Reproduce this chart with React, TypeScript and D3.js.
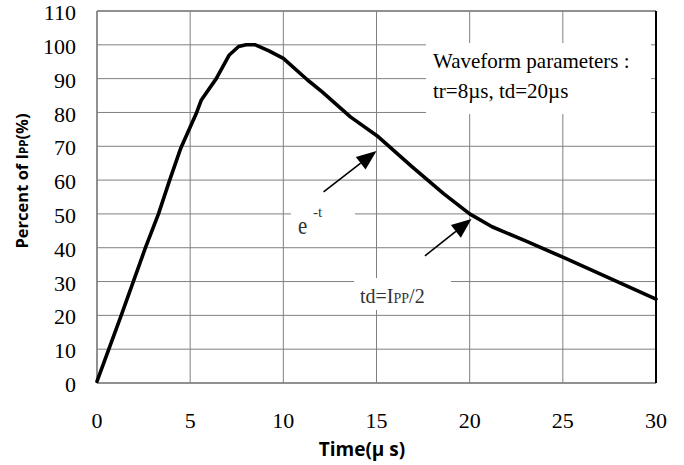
import React from "react";
import * as d3 from "d3";

const timeUs = [0, 1.3, 2.6, 3.3, 3.9, 4.5, 5.35, 5.6, 6.4, 7.1, 7.6, 8.0, 8.5, 9.2, 10.0, 11.3, 12.1, 13.6, 15.1, 16.9, 18.6, 20, 21.2, 23, 25, 27.5, 30];
const percent = [0.5, 20, 40, 50, 60, 69.5, 80, 83.7, 90, 97, 99.5, 100, 100, 98.3, 96, 89.6, 86, 78.7, 72.8, 64, 56, 50, 46.2, 42, 37.2, 31, 24.8];
const xTicks = [0, 5, 10, 15, 20, 25, 30];
const yTicks = [0, 10, 20, 30, 40, 50, 60, 70, 80, 90, 100, 110];
// arrows: [tailT, tailV, tipT, tipV]
const arrows = [
  [12.16, 56.5, 15.0, 68.6],
  [17.6, 37.6, 20.1, 48.5],
];

const W = 684, H = 465;
const L = 97, R = 656, T = 11, B = 383;

export default function App() {
  const x = d3.scaleLinear().domain([0, 30]).range([L, R]);
  const y = d3.scaleLinear().domain([0, 110]).range([B, T]);
  const pts: [number, number][] = timeUs.map((t, i) => [t, percent[i]]);
  const line = d3.line<[number, number]>().x(d => x(d[0])).y(d => y(d[1]));
  const serif = "'Liberation Serif', 'DejaVu Serif', serif";
  const sans = "'Open Sans', 'Noto Sans', sans-serif";
  const grid = "#808080";

  const arrowEls = arrows.map((a, i) => {
    const x1 = x(a[0]), y1 = y(a[1]), x2 = x(a[2]), y2 = y(a[3]);
    const ang = Math.atan2(y2 - y1, x2 - x1);
    const hl = 20, hw = 8;
    const bx = x2 - hl * Math.cos(ang), by = y2 - hl * Math.sin(ang);
    const px = -Math.sin(ang) * hw, py = Math.cos(ang) * hw;
    return (
      <g key={i}>
        <line x1={x1} y1={y1} x2={bx} y2={by} stroke="#000" strokeWidth={1.6} />
        <polygon points={`${x2},${y2} ${bx + px},${by + py} ${bx - px},${by - py}`} fill="#000" />
      </g>
    );
  });

  return (
    <div style={{ position: "fixed", left: 0, top: 0 }}>
      <svg width={W} height={H} style={{ display: "block", background: "#fff" }}>
        {/* gridlines */}
        {yTicks.map(v => (
          <line key={"h" + v} x1={L} x2={R} y1={y(v)} y2={y(v)} stroke={grid} strokeWidth={1} />
        ))}
        {xTicks.map(t => (
          <line key={"v" + t} x1={x(t)} x2={x(t)} y1={T} y2={B} stroke={grid} strokeWidth={1} />
        ))}
        {/* white label boxes */}
        <rect x={426} y={43} width={225} height={71} fill="#fff" />
        <rect x={291} y={195} width={64} height={45} fill="#fff" />
        <rect x={354} y={278} width={97} height={32} fill="#fff" />
        {/* borders */}
        <line x1={L} x2={R} y1={T} y2={T} stroke={grid} strokeWidth={1.5} />
        <line x1={L} x2={L} y1={T} y2={B} stroke={grid} strokeWidth={1.5} />
        <line x1={L} x2={R} y1={B} y2={B} stroke={grid} strokeWidth={1.5} />
        <line x1={R} x2={R} y1={T} y2={B} stroke="#000" strokeWidth={2} />
        {/* curve */}
        <path d={line(pts) || ""} fill="none" stroke="#000" strokeWidth={3.6} strokeLinejoin="round" strokeLinecap="round" />
        {arrowEls}
        {/* tick labels */}
        {yTicks.map(v => (
          <text key={"yl" + v} x={76} y={y(v) + 4} textAnchor="end" dominantBaseline="middle" fontFamily={serif} fontSize={22} fill="#000">{v}</text>
        ))}
        {xTicks.map(t => (
          <text key={"xl" + t} x={x(t)} y={428} textAnchor="middle" fontFamily={serif} fontSize={22} fill="#000">{t}</text>
        ))}
        {/* axis titles */}
        <text x={362} y={456} textAnchor="middle" fontFamily={sans} fontWeight="bold" fontSize={19} fill="#000">Time(µ s)</text>
        <text transform="translate(28,181) rotate(-90)" textAnchor="middle" fontFamily={sans} fontWeight="bold" fontSize={16.5} fill="#000">
          Percent of I<tspan fontSize={11.5}>PP</tspan>(%)
        </text>
        {/* annotations */}
        <text x={433} y={68} fontFamily={serif} fontSize={21} fill="#000">Waveform parameters :</text>
        <text x={433} y={98} fontFamily={serif} fontSize={21} fill="#000">tr=8µs, td=20µs</text>
        <text transform="translate(298,234) scale(0.8,1)" fontFamily={serif} fontSize={26} fill="#333">e</text>
        <text x={313} y={217} fontFamily={serif} fontSize={15} fill="#333">-t</text>
        <text x={360} y={303} fontFamily={serif} fontSize={20} fill="#333">
          td=I<tspan fontSize={14}>PP</tspan>/2
        </text>
      </svg>
    </div>
  );
}
